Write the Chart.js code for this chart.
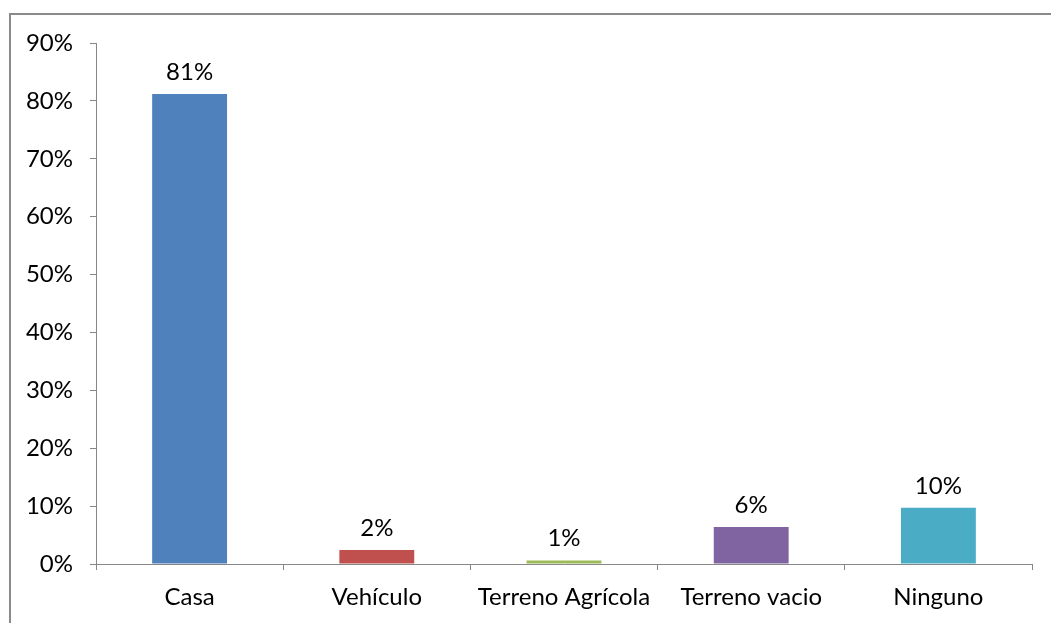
<!DOCTYPE html>
<html>
<head>
<meta charset="utf-8">
<script src="https://cdn.jsdelivr.net/npm/chart.js@4/dist/chart.umd.min.js"></script>
<style>
  html, body { margin: 0; padding: 0; background: #fff; }
  canvas { display: block; }
</style>
</head>
<body>
<canvas id="chart" width="1051" height="623"></canvas>
<script>
const categories = ["Casa", "Vehículo", "Terreno Agrícola", "Terreno vacio", "Ninguno"];
const values = [81.2, 2.4, 0.6, 6.4, 9.7];
const valueLabels = ["81%", "2%", "1%", "6%", "10%"];
const barColors = ["#4F81BD", "#C0504D", "#9BBB59", "#8064A2", "#4BACC6"];

const font = "Lato, 'Liberation Sans', sans-serif";
const fontSize = 24;
const axisColor = "#878787";

// frame around the chart, cut by the window on the right and bottom
const framePlugin = {
  id: "frame",
  beforeDraw(chart) {
    const ctx = chart.ctx;
    ctx.save();
    ctx.fillStyle = "#fff";
    ctx.fillRect(0, 0, chart.width, chart.height);
    ctx.strokeStyle = "#8a8a8a";
    ctx.lineWidth = 2;
    ctx.strokeRect(10, 14, 1100, 700);
    ctx.restore();
  }
};

// value labels above each bar
const labelPlugin = {
  id: "valueLabels",
  afterDatasetsDraw(chart) {
    const ctx = chart.ctx;
    const meta = chart.getDatasetMeta(0);
    ctx.save();
    ctx.font = fontSize + "px " + font;
    ctx.fillStyle = "#000";
    ctx.textAlign = "center";
    ctx.textBaseline = "bottom";
    meta.data.forEach((bar, i) => {
      ctx.fillText(valueLabels[i], bar.x, bar.y - 10);
    });
    ctx.restore();
  }
};

new Chart(document.getElementById("chart").getContext("2d"), {
  type: "bar",
  data: {
    labels: categories,
    datasets: [{
      data: values,
      backgroundColor: barColors,
      barPercentage: 0.4,
      categoryPercentage: 1.0
    }]
  },
  options: {
    responsive: false,
    animation: false,
    layout: { padding: { left: 0, top: 43, right: 19, bottom: 0 } },
    plugins: {
      legend: { display: false },
      tooltip: { enabled: false }
    },
    scales: {
      y: {
        min: 0,
        max: 90,
        afterFit(scale) { scale.width = 96; },
        ticks: {
          stepSize: 10,
          padding: 17,
          color: "#000",
          font: { family: font, size: fontSize },
          callback: v => v + "%"
        },
        grid: {
          drawOnChartArea: false,
          drawTicks: true,
          tickLength: 6,
          color: axisColor
        },
        border: { color: axisColor, width: 1 }
      },
      x: {
        afterFit(scale) { scale.height = 59; },
        ticks: {
          padding: 13,
          color: "#000",
          font: { family: font, size: fontSize },
          maxRotation: 0
        },
        grid: {
          offset: true,
          drawOnChartArea: false,
          tickLength: 6,
          color: axisColor
        },
        border: { color: axisColor, width: 1 }
      }
    }
  },
  plugins: [framePlugin, labelPlugin]
});
</script>
</body>
</html>
